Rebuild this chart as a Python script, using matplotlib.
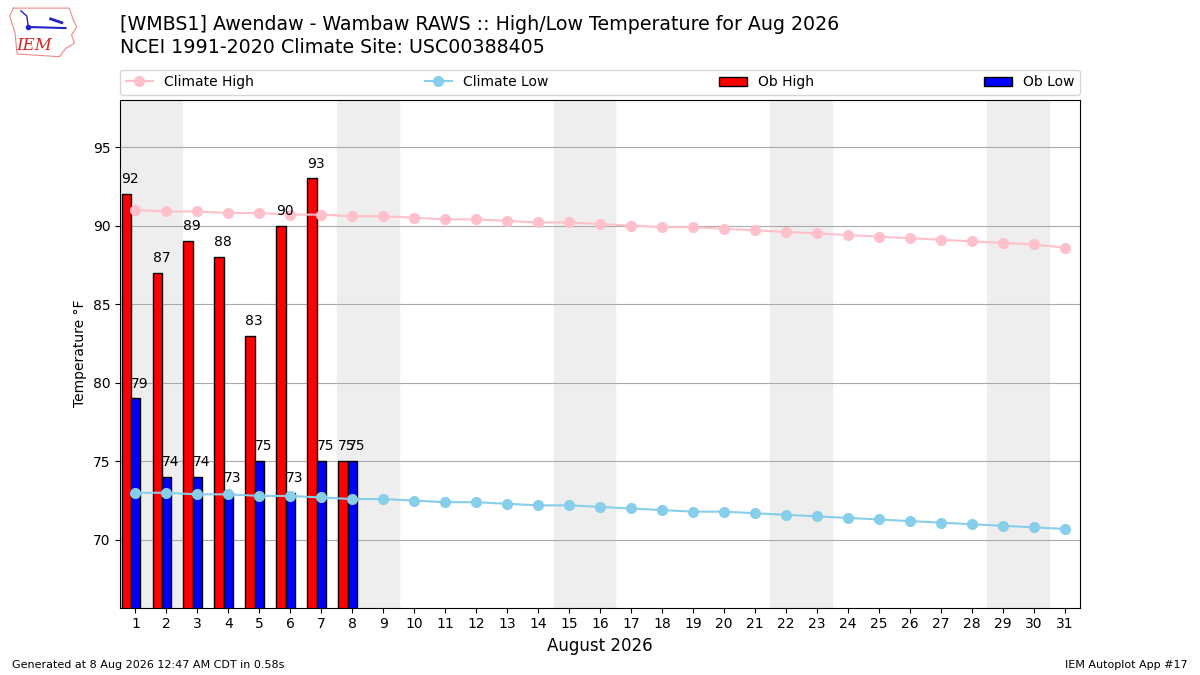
import matplotlib.pyplot as plt
import numpy as np

# daily values for August 2026
days = np.arange(1, 32)
climate_high = [91.0, 90.9, 90.9, 90.8, 90.8, 90.7, 90.7, 90.6, 90.6, 90.5,
                90.4, 90.4, 90.3, 90.2, 90.2, 90.1, 90.0, 89.9, 89.9, 89.8,
                89.7, 89.6, 89.5, 89.4, 89.3, 89.2, 89.1, 89.0, 88.9, 88.8, 88.6]
climate_low = [73.0, 73.0, 72.9, 72.9, 72.8, 72.8, 72.7, 72.6, 72.6, 72.5,
               72.4, 72.4, 72.3, 72.2, 72.2, 72.1, 72.0, 71.9, 71.8, 71.8,
               71.7, 71.6, 71.5, 71.4, 71.3, 71.2, 71.1, 71.0, 70.9, 70.8, 70.7]
ob_days = np.arange(1, 9)
ob_high = [92, 87, 89, 88, 83, 90, 93, 75]
ob_low = [79, 74, 74, 73, 75, 73, 75, 75]
weekend_starts = [1, 8, 15, 22, 29]

fig = plt.figure(figsize=(12, 6.75), dpi=100)
ax = fig.add_axes([0.1, 0.1, 0.8, 0.752])

for d in weekend_starts:
    ax.axvspan(d - 0.5, d + 1.5, color='#EEEEEE', zorder=0)

width = 0.3
ax.bar(ob_days - 0.3, ob_high, width=width, color='r', edgecolor='k',
       label='Ob High', zorder=2)
ax.bar(ob_days, ob_low, width=width, color='b', edgecolor='k',
       label='Ob Low', zorder=2)
for d, v in zip(ob_days, ob_high):
    ax.text(d - 0.45, v + 0.5, f"{v}", ha='left', va='bottom', fontsize=10,
            zorder=4)
for d, v in zip(ob_days, ob_low):
    ax.text(d - 0.15, v + 0.5, f"{v}", ha='left', va='bottom', fontsize=10,
            zorder=4)

ax.plot(days, climate_high, color='pink', marker='o', lw=1.5, ms=7,
        label='Climate High', zorder=3)
ax.plot(days, climate_low, color='skyblue', marker='o', lw=1.5, ms=7,
        label='Climate Low', zorder=3)

ax.set_xlim(0.5, 31.5)
ax.set_ylim(min(climate_low) - 5, max(ob_high) + 5)
ax.set_xticks(days)
ax.set_yticks([70, 75, 80, 85, 90, 95])
ax.grid(axis='y', color='#AAAAAA', zorder=1)
ax.set_axisbelow(True)
ax.set_xlabel("August 2026", fontsize=12)
ax.set_ylabel("Temperature °F")

h, l = ax.get_legend_handles_labels()
want = ['Climate High', 'Climate Low', 'Ob High', 'Ob Low']
order = [l.index(w) for w in want]
ax.legend([h[i] for i in order], [l[i] for i in order],
          bbox_to_anchor=(0, 1.01, 1, 0.05), loc='lower left', ncol=4,
          mode='expand', borderaxespad=0, fontsize=10)

fig.text(0.1, 0.964, "[WMBS1] Awendaw - Wambaw RAWS :: High/Low Temperature for Aug 2026",
         fontsize=13.7, va='center')
fig.text(0.1, 0.929, "NCEI 1991-2020 Climate Site: USC00388405",
         fontsize=13.7, va='center')
fig.text(0.01, 0.01, "Generated at 8 Aug 2026 12:47 AM CDT in 0.58s", fontsize=8)
fig.text(0.99, 0.01, "IEM Autoplot App #17", fontsize=8, ha='right')

# rough IEM logo
lax = fig.add_axes([0.005, 0.912, 0.062, 0.08])
lax.axis('off')
outline_x = [0.1, 0.85, 0.9, 0.95, 0.88, 0.92, 0.8, 0.72, 0.15, 0.12, 0.05, 0.1]
outline_y = [0.95, 0.95, 0.75, 0.6, 0.45, 0.3, 0.2, 0.05, 0.1, 0.5, 0.8, 0.95]
lax.plot(outline_x, outline_y, color='#E88', lw=0.8)
lax.plot([0.3, 0.8], [0.6, 0.58], color='#22C', lw=1.5)
lax.plot([0.3], [0.6], 'o', color='#22C', ms=3)
lax.plot([0.6, 0.75], [0.75, 0.68], color='#22C', lw=2)
lax.plot([0.2, 0.28, 0.3], [0.9, 0.8, 0.6], color='#22C', lw=1)
lax.text(0.38, 0.25, "IEM", color='#D22', fontsize=12, style='italic',
         family='serif', ha='center', va='center')
lax.set_xlim(0, 1)
lax.set_ylim(0, 1)

fig.savefig("out.png")
